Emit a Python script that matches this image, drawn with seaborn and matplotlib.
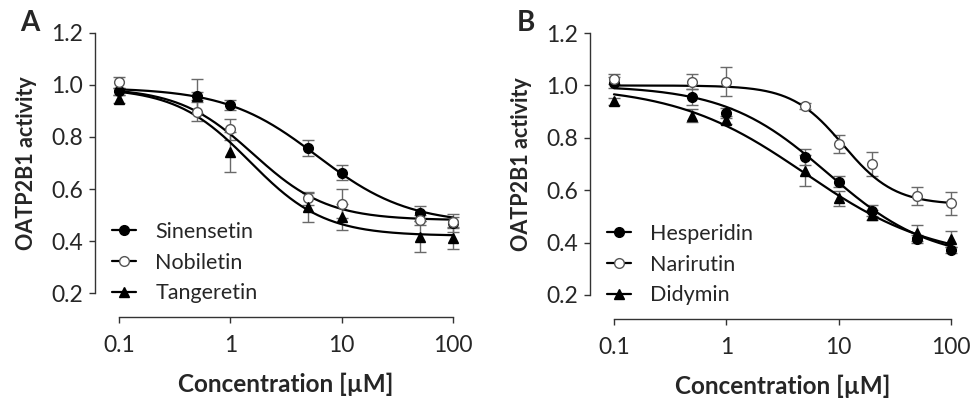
import numpy as np
import pandas as pd
import matplotlib
matplotlib.use("Agg")
import matplotlib.pyplot as plt
import seaborn as sns

# concentrations (uM)
conc_a = [0.1, 0.5, 1, 5, 10, 50, 100]
conc_b = [0.1, 0.5, 1, 5, 10, 20, 50, 100]

# panel A - mean activity and SD
sinensetin = [0.975, 0.958, 0.922, 0.758, 0.663, 0.506, 0.470]
sinensetin_sd = [0.012, 0.015, 0.02, 0.03, 0.03, 0.03, 0.035]
nobiletin = [1.010, 0.898, 0.830, 0.564, 0.544, 0.480, 0.474]
nobiletin_sd = [0.022, 0.035, 0.04, 0.025, 0.057, 0.02, 0.02]
tangeretin = [0.947, 0.958, 0.744, 0.529, 0.493, 0.416, 0.410]
tangeretin_sd = [0.015, 0.065, 0.077, 0.055, 0.05, 0.06, 0.04]

# panel B - mean activity and SD
hesperidin = [1.011, 0.955, 0.894, 0.726, 0.633, 0.522, 0.413, 0.372]
hesperidin_sd = [0.02, 0.03, 0.02, 0.03, 0.02, 0.02, 0.015, 0.01]
narirutin = [1.024, 1.015, 1.015, 0.922, 0.777, 0.700, 0.578, 0.550]
narirutin_sd = [0.02, 0.03, 0.057, 0.01, 0.035, 0.045, 0.033, 0.043]
didymin = [0.939, 0.884, 0.869, 0.675, 0.569, 0.506, 0.438, 0.413]
didymin_sd = [0.015, 0.025, 0.015, 0.06, 0.03, 0.02, 0.03, 0.03]

# fitted 4PL parameters: top, bottom, IC50, hill
fit_a = {"Sinensetin": (0.99, 0.465, 6.0, 1.06),
         "Nobiletin": (0.99, 0.48, 1.6, 1.3),
         "Tangeretin": (0.99, 0.42, 1.5, 1.3)}
fit_b = {"Hesperidin": (1.0, 0.33, 8.0, 0.95),
         "Narirutin": (1.0, 0.545, 11.0, 1.9),
         "Didymin": (1.0, 0.33, 5.0, 0.75)}

markers = {"Sinensetin": "o", "Nobiletin": "o", "Tangeretin": "^",
           "Hesperidin": "o", "Narirutin": "o", "Didymin": "^"}
filled = {"Sinensetin": True, "Nobiletin": False, "Tangeretin": True,
          "Hesperidin": True, "Narirutin": False, "Didymin": True}


def logistic(x, top, bottom, ic50, hill):
    return bottom + (top - bottom) / (1 + (x / ic50) ** hill)


def make_df(conc, series):
    rows = []
    for name, (vals, sds) in series.items():
        for c, v, s in zip(conc, vals, sds):
            rows.append({"Compound": name, "Conc": c, "Activity": v, "SD": s})
    return pd.DataFrame(rows)


sns.set_style("ticks")
plt.rcParams["font.family"] = ["Lato", "DejaVu Sans"]

fig = plt.figure(figsize=(9.71, 3.98), dpi=100)
ax_a = fig.add_axes([0.1226, 0.2638, 0.344, 0.6533])
ax_b = fig.add_axes([0.6323, 0.2588, 0.347, 0.658])

df_a = make_df(conc_a, {"Sinensetin": (sinensetin, sinensetin_sd),
                        "Nobiletin": (nobiletin, nobiletin_sd),
                        "Tangeretin": (tangeretin, tangeretin_sd)})
df_b = make_df(conc_b, {"Hesperidin": (hesperidin, hesperidin_sd),
                        "Narirutin": (narirutin, narirutin_sd),
                        "Didymin": (didymin, didymin_sd)})

xs = np.logspace(-1, 2, 300)

for ax, df, fits, letter, lx in [(ax_a, df_a, fit_a, "A", 0.021), (ax_b, df_b, fit_b, "B", 0.532)]:
    handles = []
    for name, params in fits.items():
        sub = df[df["Compound"] == name]
        ax.errorbar(sub["Conc"], sub["Activity"], yerr=sub["SD"], fmt="none",
                    ecolor="#6a6a6a", elinewidth=1.0, capsize=4.3, capthick=1.0,
                    clip_on=False, zorder=2)
        sns.lineplot(x=xs, y=logistic(xs, *params), ax=ax, color="black",
                     linewidth=1.6, clip_on=False, zorder=3)
        mfc = "black" if filled[name] else "white"
        mec = "black" if filled[name] else "#555555"
        ax.plot(sub["Conc"], sub["Activity"], linestyle="none",
                marker=markers[name], markersize=7, markerfacecolor=mfc,
                markeredgecolor=mec, markeredgewidth=1.0, clip_on=False, zorder=4)
        h, = ax.plot([], [], color="black", linewidth=1.6, marker=markers[name],
                     markersize=7, markerfacecolor=mfc, markeredgecolor=mec)
        handles.append((h, name))

    ax.set_xscale("log")
    ax.set_xlim(0.1, 100)
    ax.set_ylim(0.2, 1.2)
    ax.set_xticks([0.1, 1, 10, 100])
    ax.set_xticklabels(["0.1", "1", "10", "100"])
    ax.xaxis.set_minor_locator(matplotlib.ticker.NullLocator())
    ax.set_yticks([0.2, 0.4, 0.6, 0.8, 1.0, 1.2])
    ax.set_yticklabels(["0.2", "0.4", "0.6", "0.8", "1.0", "1.2"])
    ax.tick_params(labelsize=16.5, length=4, width=1, color="#333333", pad=5)
    ax.tick_params(axis="x", pad=9)
    sns.despine(ax=ax)
    ax.spines["left"].set_position(("outward", 17))
    ax.spines["bottom"].set_position(("outward", 17))
    for s in ["left", "bottom"]:
        ax.spines[s].set_color("#333333")
        ax.spines[s].set_linewidth(1.0)
    ax.set_xlabel("Concentration [µM]", fontsize=17.5, fontweight="bold", labelpad=12)
    ax.set_ylabel("OATP2B1 activity", fontsize=15.5, fontweight="bold", labelpad=10)
    ax.legend([h for h, _ in handles], [n for _, n in handles], loc="lower left",
              frameon=False, fontsize=15.5, handlelength=1.1, handletextpad=0.9,
              labelspacing=0.5, borderpad=0, borderaxespad=0,
              bbox_to_anchor=(-0.02, -0.04))
    fig.text(lx, 0.942, letter, fontsize=20, fontweight="bold", va="center", ha="left")

fig.savefig("out.png", dpi=100)
